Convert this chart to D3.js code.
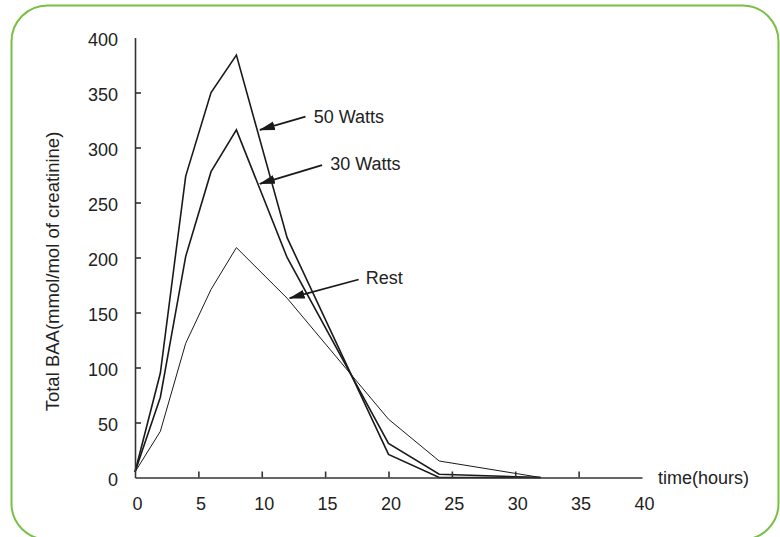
<!DOCTYPE html>
<html>
<head>
<meta charset="utf-8">
<script src="https://cdn.jsdelivr.net/npm/d3@7"></script>
<style>
  body { margin: 0; background: #fff; }
  svg { display: block; font-family: "Liberation Sans", Arial, sans-serif; }
</style>
</head>
<body>
<script>
// data
let hours   = [0, 2, 4, 6, 8, 12, 20, 24, 32]
let watts50 = [5, 95, 274, 350, 384, 218, 21, 0, 0]
let watts30 = [5, 73, 201, 278, 316, 200, 31, 3, 0]
let rest    = [5, 42, 122, 171, 209, 163, 53, 15, 0]

let xTicks = [0, 5, 10, 15, 20, 25, 30, 35, 40]
let yTicks = [0, 50, 100, 150, 200, 250, 300, 350, 400]

// labels with arrows: text, arrow tip, arrow tail, text start (data units)
let noteText = ['50 Watts', '30 Watts', 'Rest']
let noteTip  = [[9.85, 316], [9.85, 267], [12.2, 163]]
let noteTail = [[13.45, 328], [14.76, 284], [17.64, 180]]
let noteAt   = [[14.1, 322.5], [15.4, 279.5], [18.2, 176]]

let width = 780, height = 537

let x = d3.scaleLinear().domain([0, 40]).range([135, 642])
let y = d3.scaleLinear().domain([0, 400]).range([477.5, 37.5])

let svg = d3.select('body').append('svg')
  .attr('width', width)
  .attr('height', height)

// green rounded frame
svg.append('rect')
  .attr('x', 11.5).attr('y', 5.5)
  .attr('width', 767).attr('height', 534)
  .attr('rx', 36)
  .attr('fill', 'none')
  .attr('stroke', '#78c043')
  .attr('stroke-width', 2)

let series = [
  {name: '50 Watts', values: watts50, w: 1.6},
  {name: '30 Watts', values: watts30, w: 1.6},
  {name: 'Rest', values: rest, w: 1}
]

let line = d3.line()
  .x(d => x(d[0]))
  .y(d => y(d[1]))

svg.selectAll('path.series')
  .data(series)
  .enter().append('path')
  .attr('class', 'series')
  .attr('fill', 'none')
  .attr('stroke', '#1a1a1a')
  .attr('stroke-width', d => d.w)
  .attr('stroke-linejoin', 'miter')
  .attr('d', d => line(hours.map((h, i) => [h, d.values[i]])))

// axes, ticks point inward
let xAxis = svg.append('g')
  .attr('transform', 'translate(0,' + y(0) + ')')
  .call(d3.axisBottom(x).tickValues(xTicks).tickSizeInner(-6).tickSizeOuter(0).tickPadding(20))

let yAxis = svg.append('g')
  .attr('transform', 'translate(' + x(0) + ',0)')
  .call(d3.axisLeft(y).tickValues(yTicks).tickSizeInner(-6).tickSizeOuter(0).tickPadding(17))

for (let g of [xAxis, yAxis]) {
  g.select('.domain').attr('stroke', '#333').attr('stroke-width', 1.6)
  g.selectAll('.tick line').attr('stroke', '#333').attr('stroke-width', 1.6)
  g.selectAll('.tick text').attr('fill', '#222').attr('font-size', 18)
    .attr('font-family', '"Liberation Sans", Arial, sans-serif')
}
// no tick marks at the ends of the axes
xAxis.selectAll('.tick').filter(d => d == 0 || d == 40).select('line').remove()
yAxis.selectAll('.tick').filter(d => d == 0 || d == 400).select('line').remove()
xAxis.selectAll('.tick text').attr('dx', 2)
yAxis.selectAll('.tick text').attr('dy', '0.42em')

svg.append('text')
  .attr('x', 658).attr('y', 484)
  .attr('font-size', 18)
  .attr('fill', '#222')
  .text('time(hours)')

svg.append('text')
  .attr('transform', 'translate(59,271.5) rotate(-90)')
  .attr('text-anchor', 'middle')
  .attr('font-size', 18.5)
  .attr('fill', '#222')
  .text('Total BAA(mmol/mol of creatinine)')

// arrow heads
svg.append('defs').append('marker')
  .attr('id', 'head')
  .attr('markerUnits', 'userSpaceOnUse')
  .attr('viewBox', '0 -5 16 10')
  .attr('markerWidth', 16).attr('markerHeight', 10)
  .attr('refX', 15).attr('refY', 0)
  .attr('orient', 'auto')
  .append('path')
  .attr('d', 'M0,-4.5L16,0L0,4.5Z')
  .attr('fill', '#1a1a1a')

noteText.forEach((t, i) => {
  svg.append('line')
    .attr('x1', x(noteTail[i][0])).attr('y1', y(noteTail[i][1]))
    .attr('x2', x(noteTip[i][0])).attr('y2', y(noteTip[i][1]))
    .attr('stroke', '#1a1a1a')
    .attr('stroke-width', 1.8)
    .attr('marker-end', 'url(#head)')
  svg.append('text')
    .attr('x', x(noteAt[i][0])).attr('y', y(noteAt[i][1]))
    .attr('font-size', 18)
    .attr('fill', '#222')
    .text(t)
})
</script>
</body>
</html>
